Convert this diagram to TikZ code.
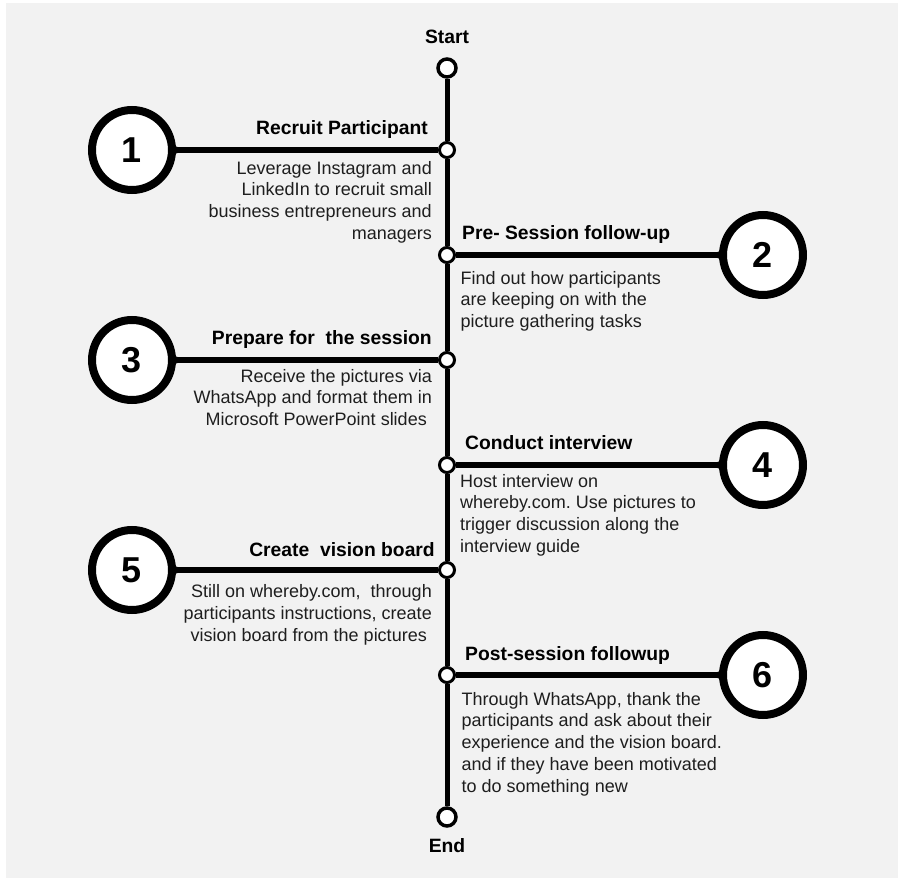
\documentclass[tikz,border=0pt]{standalone}
\usepackage{fontspec}
\setmainfont{Liberation Sans}
\frenchspacing
\definecolor{bg}{HTML}{F2F2F2}
\definecolor{txt}{HTML}{1E1E1E}
\tikzset{
 junc/.style={circle, draw=black, fill=white, line width=3pt, minimum size=15pt, inner sep=0pt},
 endpt/.style={circle, draw=black, fill=white, line width=3.5pt, minimum size=18pt, inner sep=0pt},
 bignum/.style={circle, draw=black, fill=white, line width=8pt, minimum size=80pt, inner sep=0pt, font=\fontsize{36}{36}\selectfont\bfseries},
 ttl/.style={inner sep=0pt, font=\fontsize{19.3}{23}\selectfont\bfseries, text=black},
 dsc/.style={inner sep=0pt, font=\fontsize{18}{21.7}\selectfont, text=txt},
 spine/.style={line width=5pt},
 arm/.style={line width=5.5pt},
}
\newcommand\myfilL[1]{\fill[shift={(#1.center)}] (12:43) .. controls (43.4,2.75) .. (49.7,2.75) -- (49.7,-2.75) .. controls (43.4,-2.75) .. (-12:43) -- cycle;}
\newcommand\myfilR[1]{\fill[shift={(#1.center)},xscale=-1] (12:43) .. controls (43.4,2.75) .. (49.7,2.75) -- (49.7,-2.75) .. controls (43.4,-2.75) .. (-12:43) -- cycle;}
\begin{document}
\begin{tikzpicture}[x=1pt,y=1pt]
\useasboundingbox (0,0) rectangle (898,-878);
\fill[white] (0,0) rectangle (898,-878);
\fill[bg] (6,-3) rectangle (898,-878);

% start / end
\node[ttl] (st) at (447,-36.5) {Start};
\node[endpt] (s) at (447,-68) {};
\node[endpt] (e) at (447,-817) {};
\node[ttl] (en) at (447,-846) {End};

% junctions
\node[junc] (j1) at (447,-150) {};
\node[junc] (j2) at (447,-255) {};
\node[junc] (j3) at (447,-360) {};
\node[junc] (j4) at (447,-465) {};
\node[junc] (j5) at (447,-570) {};
\node[junc] (j6) at (447,-675) {};

% numbered circles
\node[bignum] (c1) at (132,-150) {1};
\node[bignum] (c2) at (763,-255) {2};
\node[bignum] (c3) at (132,-360) {3};
\node[bignum] (c4) at (763,-465) {4};
\node[bignum] (c5) at (132,-570) {5};
\node[bignum] (c6) at (763,-675) {6};

% spine
\draw[spine] (s) -- (j1);
\draw[spine] (j1) -- (j2);
\draw[spine] (j2) -- (j3);
\draw[spine] (j3) -- (j4);
\draw[spine] (j4) -- (j5);
\draw[spine] (j5) -- (j6);
\draw[spine] (j6) -- (e);

% arms
\draw[arm] (c1) -- (j1);
\draw[arm] (c2) -- (j2);
\draw[arm] (c3) -- (j3);
\draw[arm] (c4) -- (j4);
\draw[arm] (c5) -- (j5);
\draw[arm] (c6) -- (j6);
\myfilL{c1}\myfilR{c2}\myfilL{c3}\myfilR{c4}\myfilL{c5}\myfilR{c6}

% titles
\node[ttl, anchor=base east] (t1) at (428,-134) {Recruit Participant};
\node[ttl, anchor=base west] (t2) at (462,-239.5) {Pre- Session follow-up};
\node[ttl, anchor=base east] (t3) at (432,-344) {Prepare for\ \ the session};
\node[ttl, anchor=base west] (t4) at (465,-449) {Conduct interview};
\node[ttl, anchor=base east] (t5) at (435,-556) {Create\ \ vision board};
\node[ttl, anchor=base west] (t6) at (465,-660) {Post-session followup};

% descriptions
\node[dsc, anchor=north east, align=right] (d1) at (432,-161) {Leverage Instagram and\\LinkedIn to recruit small\\business entrepreneurs and\\managers};
\node[dsc, anchor=north west, align=left] (d2) at (460.5,-271) {Find out how participants\\are keeping on with the\\picture gathering tasks};
\node[dsc, anchor=north east, align=right] (d3) at (432,-369) {Receive the pictures via\\WhatsApp and format them in\\Microsoft PowerPoint slides\hspace*{5pt}};
\node[dsc, anchor=north west, align=left] (d4) at (460,-474) {Host interview on\\whereby.com. Use pictures to\\trigger discussion along the\\interview guide};
\node[dsc, anchor=north east, align=right] (d5) at (432,-584.5) {Still on whereby.com,\ \ through\\participants instructions, create\\vision board from the pictures\hspace*{5pt}};
\node[dsc, anchor=north west, align=left] (d6) at (461.5,-692) {Through WhatsApp, thank the\\participants and ask about their\\experience and the vision board.\\and if they have been motivated\\to do something new};
\end{tikzpicture}
\end{document}
